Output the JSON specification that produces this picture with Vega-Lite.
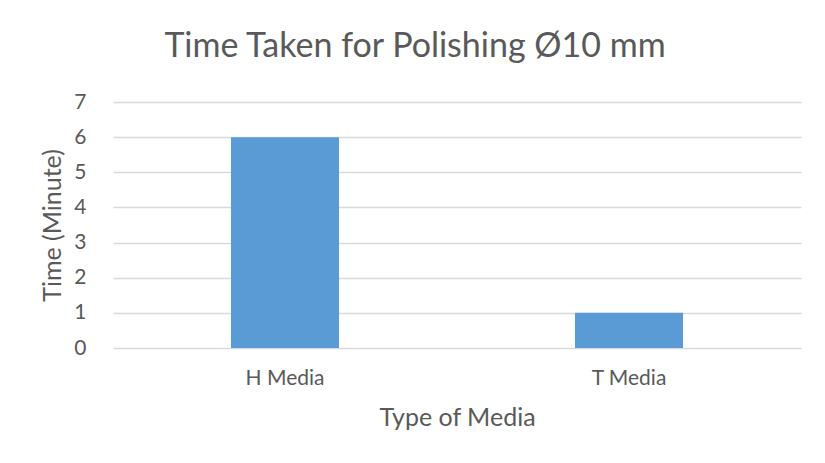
{
  "$schema": "https://vega.github.io/schema/vega-lite/v6.json",
  "autosize": {"type": "none"},
  "width": 688,
  "height": 246,
  "padding": {"left": 113, "top": 102, "right": 24, "bottom": 115},
  "background": "white",
  "title": {
    "text": "Time Taken for Polishing Ø10 mm",
    "font": "Lato",
    "fontSize": 34,
    "fontWeight": "normal",
    "color": "#595959",
    "anchor": "middle",
    "dx": -42,
    "offset": 27
  },
  "data": {
    "values": [
      {"media": "H Media", "time": 6},
      {"media": "T Media", "time": 1}
    ]
  },
  "mark": {"type": "bar", "color": "#5b9bd5"},
  "encoding": {
    "x": {
      "field": "media",
      "type": "nominal",
      "sort": null,
      "title": "Type of Media",
      "scale": {"paddingInner": 0.686, "paddingOuter": 0.343},
      "axis": {
        "labelAngle": 0,
        "ticks": false,
        "domain": false,
        "labelPadding": 19,
        "titlePadding": 17
      }
    },
    "y": {
      "field": "time",
      "type": "quantitative",
      "title": "Time (Minute)",
      "scale": {"domain": [0, 7]},
      "axis": {
        "values": [0, 1, 2, 3, 4, 5, 6, 7],
        "ticks": false,
        "domain": false,
        "grid": true,
        "labelPadding": 27,
        "titlePadding": 8
      }
    }
  },
  "config": {
    "view": {"stroke": null},
    "axis": {
      "labelFont": "Lato",
      "labelFontSize": 21,
      "labelColor": "#595959",
      "titleFont": "Lato",
      "titleFontSize": 25,
      "titleFontWeight": "normal",
      "titleColor": "#595959",
      "gridColor": "#d9d9d9",
      "gridWidth": 1.3
    }
  }
}
